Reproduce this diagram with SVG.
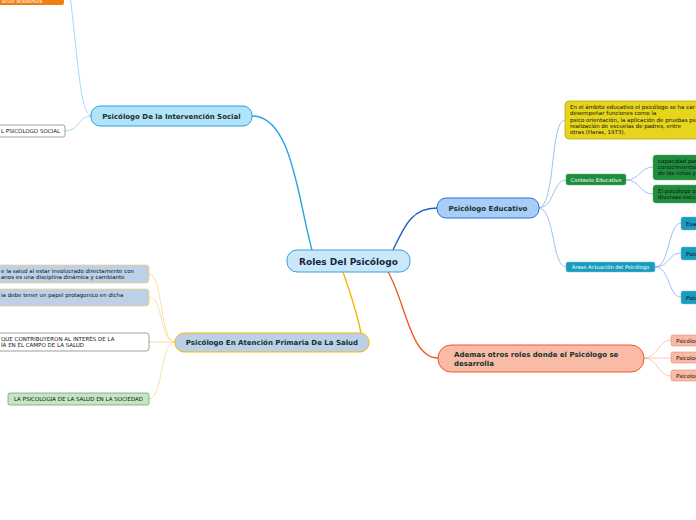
<svg xmlns="http://www.w3.org/2000/svg" width="696" height="520" viewBox="0 0 696 520">
<style>
text{font-family:"DejaVu Sans",Verdana,sans-serif}
.main{font-weight:bold;font-size:7px;fill:#13332e}
.sm{font-size:5.5px;fill:#111}
.smw{font-size:5.2px;fill:#fff}
.c{fill:none}
</style>
<rect width="696" height="520" fill="#fff"/>
<g id="connectors">
<path class="c" d="M393 250 C405 225 412 208 437 208" stroke="#1f5fc2" stroke-width="1.4"/>
<path class="c" d="M312 250 C298 200 292 116 252 116" stroke="#27a2e6" stroke-width="1.4"/>
<path class="c" d="M343 272 C350 292 358 318 361 333" stroke="#f2b705" stroke-width="1.4"/>
<path class="c" d="M388 272 C405 300 410 358 438 358" stroke="#f05a28" stroke-width="1.4"/>
<path class="c" d="M91 116 C78 116 80 131 65 131" stroke="#8fd0f2" stroke-width="0.8"/>
<path class="c" d="M91 116 C80 112 78 60 70 -5" stroke="#8fd0f2" stroke-width="0.8"/>
<g stroke="#88aef0" stroke-width="0.8">
<path class="c" d="M539 208 C556 204 550 120 565 120"/>
<path class="c" d="M539 208 C555 206 553 180 566 180"/>
<path class="c" d="M539 208 C555 210 552 267 566 267"/>
<path class="c" d="M626 180 C640 180 640 167 653 167"/>
<path class="c" d="M626 180 C640 180 640 194 653 194"/>
<path class="c" d="M655 267 C670 267 668 223 681 223"/>
<path class="c" d="M655 267 C670 267 668 253 681 253"/>
<path class="c" d="M655 267 C670 267 668 297 681 297"/>
</g>
<g stroke="#f7b9a4" stroke-width="0.8">
<path class="c" d="M644 358 C658 358 658 340 671 340"/>
<path class="c" d="M644 358 L671 358"/>
<path class="c" d="M644 358 C658 358 658 376 671 376"/>
</g>
<g stroke="#f8d88e" stroke-width="0.8">
<path class="c" d="M175 342 C160 342 163 274 149 274"/>
<path class="c" d="M175 342 C160 342 163 297 149 297"/>
<path class="c" d="M175 342 L149 342"/>
<path class="c" d="M175 342 C160 342 163 399 149 399"/>
</g>
</g>
<g id="n-center">
<rect x="287" y="250" width="123" height="22" rx="10" fill="#cbe8fb" stroke="#3d9fe0" stroke-width="1"/>
<text x="348.5" y="264.5" text-anchor="middle" font-size="9" font-weight="bold" fill="#13283f">Roles Del Psicólogo</text>
</g>
<g id="n-educativo">
<rect x="437" y="198" width="102" height="20" rx="9" fill="#a9cdf6" stroke="#2b6fd6" stroke-width="1"/>
<text x="488" y="210.5" text-anchor="middle" class="main">Psicólogo Educativo</text>
</g>
<g id="n-social">
<rect x="91" y="106" width="161" height="20" rx="9" fill="#b3e3f8" stroke="#2aa0e0" stroke-width="1"/>
<text x="171.5" y="118.5" text-anchor="middle" class="main">Psicólogo De la Intervención Social</text>
</g>
<g id="n-salud">
<rect x="175" y="333" width="194" height="19" rx="9" fill="#bcd0e8" stroke="#f5b800" stroke-width="1"/>
<text x="272" y="345" text-anchor="middle" class="main">Psicólogo En Atención Primaria De La Salud</text>
</g>
<g id="n-otros">
<rect x="438" y="345" width="206" height="27" rx="13" fill="#f9bba6" stroke="#ef5a2a" stroke-width="1"/>
<text x="454" y="356.5" class="main">Ademas otros roles donde el Psicólogo se</text>
<text x="454" y="365.5" class="main">desarrolla</text>
</g>
<g id="n-top-orange">
<rect x="-10" y="-6" width="74" height="11" rx="2" fill="#f07f13"/>
<text x="2" y="3" font-size="4.8" fill="#fff">ación académica</text>
</g>
<g id="n-psico-social">
<rect x="-10" y="125" width="75" height="12" rx="2" fill="#fff" stroke="#777" stroke-width="0.7"/>
<text x="1" y="133" class="sm">L PSICÓLOGO SOCIAL</text>
</g>
<g id="n-yellow">
<rect x="565" y="101" width="140" height="38" rx="4" fill="#e6d51c" stroke="#b3a514" stroke-width="0.7"/>
<text class="sm"><tspan x="570" y="109">En el  ámbito educativo el psicólogo se ha car</tspan><tspan x="570" y="115.3">desempeñar funciones como la</tspan><tspan x="570" y="121.6">psico orientación, la aplicación de pruebas psi</tspan><tspan x="570" y="127.9">realización de escuelas de padres, entre</tspan><tspan x="570" y="134.2">otras (Haras, 1973).</tspan></text>
</g>
<g id="n-contexto">
<rect x="566" y="174" width="60" height="11" rx="2" fill="#1e8e3e" stroke="#5fb36f" stroke-width="0.5"/>
<text x="596" y="181.5" text-anchor="middle" class="smw">Contexto Educativo</text>
</g>
<g id="n-green1">
<rect x="653" y="155" width="60" height="25" rx="3" fill="#1e8e3e" stroke="#5fb36f" stroke-width="0.5"/>
<text class="sm"><tspan x="658" y="162.5">capacidad par</tspan><tspan x="658" y="168.8">conocimientos</tspan><tspan x="658" y="175.1">de los niños y</tspan></text>
</g>
<g id="n-green2">
<rect x="653" y="185" width="60" height="18" rx="3" fill="#1e8e3e" stroke="#5fb36f" stroke-width="0.5"/>
<text class="sm"><tspan x="658" y="192.5">El psicólogo p</tspan><tspan x="658" y="198.8">diversas escu</tspan></text>
</g>
<g id="n-areas">
<rect x="566" y="262" width="89" height="10" rx="2" fill="#1a9bc0" stroke="#6cc3dc" stroke-width="0.5"/>
<text x="610.5" y="269" text-anchor="middle" class="smw">Áreas Actuación del Psicólogo</text>
</g>
<g id="n-blue1">
<rect x="681" y="217" width="30" height="13" rx="2" fill="#1a9bc0" stroke="#6cc3dc" stroke-width="0.5"/>
<text x="686" y="225.5" class="sm">Eva</text>
</g>
<g id="n-blue2">
<rect x="681" y="247" width="30" height="13" rx="2" fill="#1a9bc0" stroke="#6cc3dc" stroke-width="0.5"/>
<text x="686" y="255.5" class="sm">Psic</text>
</g>
<g id="n-blue3">
<rect x="681" y="291" width="30" height="13" rx="2" fill="#1a9bc0" stroke="#6cc3dc" stroke-width="0.5"/>
<text x="686" y="299.5" class="sm">Psic</text>
</g>
<g id="n-or1">
<rect x="671" y="335" width="40" height="11" rx="2" fill="#f9bba6" stroke="#ef7a5a" stroke-width="0.5"/>
<text x="676" y="342.5" class="sm">Psicólog</text>
</g>
<g id="n-or2">
<rect x="671" y="352" width="40" height="11" rx="2" fill="#f9bba6" stroke="#ef7a5a" stroke-width="0.5"/>
<text x="676" y="359.5" class="sm">Psicolog</text>
</g>
<g id="n-or3">
<rect x="671" y="370" width="40" height="11" rx="2" fill="#f9bba6" stroke="#ef7a5a" stroke-width="0.5"/>
<text x="676" y="377.5" class="sm">Psicolog</text>
</g>
<g id="n-salud1">
<rect x="-10" y="265" width="159" height="18" rx="3" fill="#bcd0e8" stroke="#f7d080" stroke-width="0.8"/>
<text class="sm"><tspan x="1" y="272.5">e la salud al estar involucrado directamente con</tspan><tspan x="1" y="279">anos es una disciplina dinámica y cambiante</tspan></text>
</g>
<g id="n-salud2">
<rect x="-10" y="289" width="159" height="17" rx="3" fill="#bcd0e8" stroke="#f7d080" stroke-width="0.8"/>
<text x="1" y="296.5" class="sm">ia debe tener un papel protagonico en dicha</text>
</g>
<g id="n-salud3">
<rect x="-10" y="333" width="159" height="18" rx="3" fill="#fff" stroke="#777" stroke-width="0.7"/>
<text class="sm"><tspan x="1" y="340.5">QUE CONTRIBUYERON AL INTERÉS DE LA</tspan><tspan x="1" y="347">ÍA EN EL CAMPO DE LA SALUD</tspan></text>
</g>
<g id="n-salud4">
<rect x="8" y="393" width="141" height="12" rx="2" fill="#c5e6c5" stroke="#6a9a6a" stroke-width="0.7"/>
<text x="78.5" y="401" text-anchor="middle" class="sm">LA PSICOLOGÍA DE LA SALUD EN LA SOCIEDAD</text>
</g>
</svg>
